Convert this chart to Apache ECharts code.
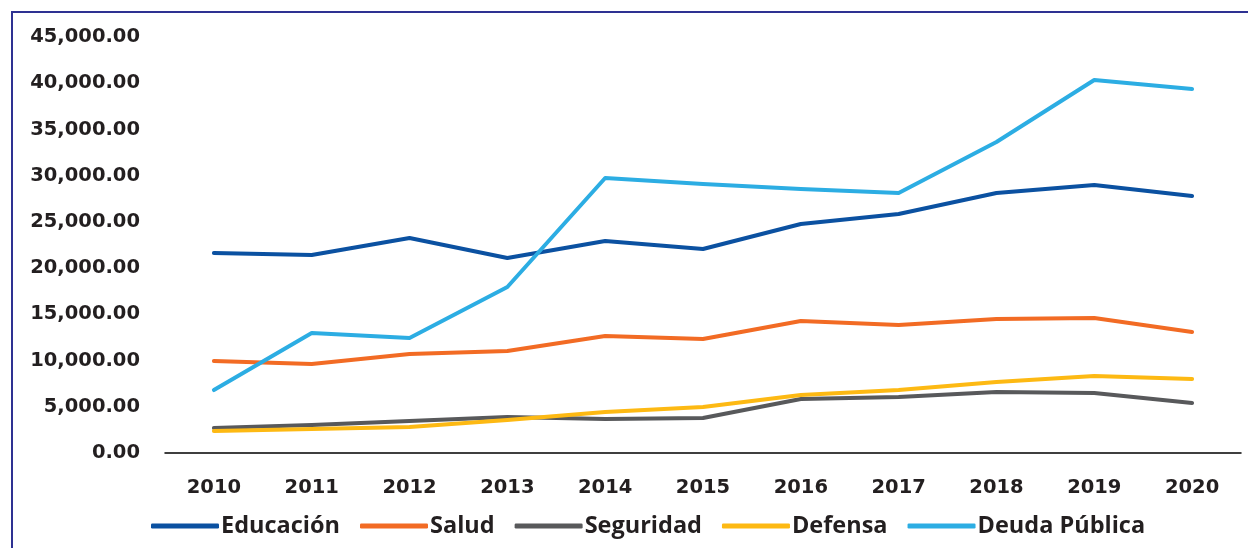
<!DOCTYPE html>
<html>
<head>
<meta charset="utf-8">
<script src="https://cdn.jsdelivr.net/npm/echarts@6/dist/echarts.min.js"></script>
<style>
  html, body { margin: 0; padding: 0; background: #fff; }
  #chart { width: 1248px; height: 548px; }
</style>
</head>
<body>
<div id="chart"></div>
<script>
// años
var years = ["2010", "2011", "2012", "2013", "2014", "2015", "2016", "2017", "2018", "2019", "2020"];

// valores
var educacion = [21630, 21420, 23250, 21090, 22930, 22070, 24770, 25850, 28120, 28990, 27800];
var salud = [9950, 9630, 10700, 11030, 12650, 12330, 14280, 13850, 14500, 14600, 13090];
var seguridad = [2700, 3030, 3460, 3890, 3680, 3790, 5840, 6060, 6600, 6490, 5410];
var defensa = [2380, 2600, 2810, 3570, 4430, 4980, 6270, 6810, 7680, 8330, 8000];
var deuda = [6810, 12980, 12440, 17960, 29750, 29100, 28560, 28120, 33640, 40350, 39370];

var names = ["Educación", "Salud", "Seguridad", "Defensa", "Deuda Pública"];
var colors = ["#0b51a1", "#f26b24", "#58595b", "#fdb913", "#2cade3"];

var chart = echarts.init(document.getElementById("chart"));

function mkSerie(name, data, i) {
  return {
    name: name,
    type: "line",
    data: data,
    showSymbol: false,
    symbol: "none",
    lineStyle: { width: 4, color: colors[i], cap: "round", join: "round" },
    itemStyle: { color: colors[i] }
  };
}

var option = {
  animation: false,
  color: colors,
  grid: { left: 165, right: 7, top: 37, bottom: 95 },
  graphic: [
    {
      type: "rect",
      shape: { x: 12, y: 12, width: 1400, height: 700 },
      style: { fill: "none", stroke: "#2e3192", lineWidth: 2 },
      silent: true
    }
  ],
  legend: {
    left: 146,
    top: 509,
    icon: "roundRect",
    itemWidth: 68,
    itemHeight: 5,
    itemGap: 20,
    textStyle: {
      fontFamily: "Open Sans",
      fontWeight: "bold",
      fontSize: 23.5,
      color: "#231f20",
      padding: [0, 0, 0, -3]
    },
    data: names
  },
  xAxis: {
    type: "category",
    data: years,
    boundaryGap: true,
    axisLine: { lineStyle: { color: "#000", width: 1.5 } },
    axisTick: { show: false },
    axisLabel: {
      margin: 25,
      fontFamily: "DejaVu Sans",
      fontWeight: "bold",
      fontSize: 19.5,
      color: "#231f20"
    }
  },
  yAxis: {
    type: "value",
    min: 0,
    max: 45000,
    interval: 5000,
    axisLine: { show: false },
    axisTick: { show: false },
    splitLine: { show: false },
    axisLabel: {
      margin: 25,
      fontFamily: "DejaVu Sans",
      fontWeight: "bold",
      fontSize: 19.5,
      color: "#231f20",
      padding: [4, 0, 0, 0],
      formatter: function (v) {
        return v.toLocaleString("en-US", { minimumFractionDigits: 2, maximumFractionDigits: 2 });
      }
    }
  },
  series: [
    mkSerie(names[0], educacion, 0),
    mkSerie(names[1], salud, 1),
    mkSerie(names[2], seguridad, 2),
    mkSerie(names[3], defensa, 3),
    mkSerie(names[4], deuda, 4)
  ]
};

chart.setOption(option);
</script>
</body>
</html>
